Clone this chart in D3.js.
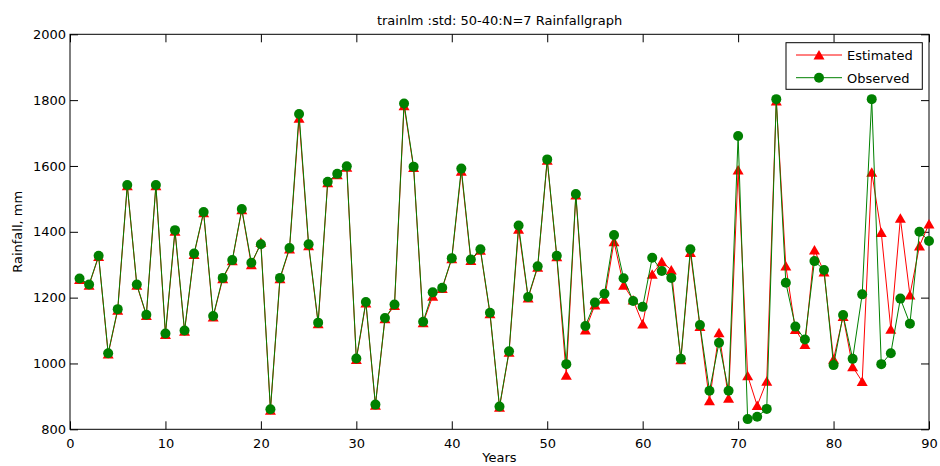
<!DOCTYPE html>
<html>
<head>
<meta charset="utf-8">
<script src="https://cdn.jsdelivr.net/npm/d3@7"></script>
<style>
  body { margin: 0; background: #fff; }
  text { font-family: "DejaVu Sans", sans-serif; font-size: 13px; fill: #000; }
</style>
</head>
<body>
<div id="chart"></div>
<script>
// Data
const years = d3.range(1, 91);
const observed = [
  1258, 1240, 1327, 1031, 1165, 1542, 1240, 1148, 1542, 1091,
  1405, 1100, 1334, 1460, 1144, 1260, 1314, 1469, 1306, 1362,
  861, 1260, 1351, 1758, 1362, 1124, 1552, 1576, 1599, 1015,
  1187, 875, 1138, 1179, 1790, 1598, 1127, 1216, 1230, 1320,
  1592, 1316, 1347, 1154, 869, 1037, 1419, 1202, 1295, 1620,
  1327, 998, 1515, 1114, 1185, 1212, 1390, 1259, 1190, 1172,
  1321, 1281, 1260, 1014, 1347, 1117, 917, 1063, 917, 1691,
  831, 838, 862, 1803, 1245, 1112, 1073, 1311, 1284, 995,
  1147, 1014, 1210, 1803, 998, 1031, 1197, 1121, 1400, 1372
];
const estimated = [
  1255, 1238, 1325, 1029, 1162, 1540, 1238, 1146, 1540, 1088,
  1402, 1098, 1331, 1458, 1141, 1257, 1312, 1467, 1300, 1368,
  858, 1257, 1348, 1745, 1358, 1121, 1549, 1573, 1596, 1012,
  1184, 873, 1136, 1176, 1783, 1595, 1124, 1204, 1228, 1318,
  1584, 1313, 1344, 1151, 867, 1034, 1408, 1199, 1292, 1617,
  1324, 964, 1512, 1102, 1178, 1195, 1370, 1238, 1193, 1120,
  1271, 1309, 1284, 1011, 1337, 1112, 887, 1093, 894, 1588,
  963, 872, 946, 1797, 1296, 1103, 1058, 1345, 1278, 1013,
  1143, 990, 945, 1581, 1398, 1104, 1441, 1208, 1357, 1424
];
const xTicks = d3.range(0, 91, 10);
const yTicks = d3.range(800, 2001, 200);

const width = 940, height = 466;
const plotLeft = 70, plotRight = 929, plotTop = 34.3, plotBottom = 429.3;

const svg = d3.select("#chart").append("svg")
  .attr("width", width)
  .attr("height", height);

const x = d3.scaleLinear().domain([0, 90]).range([plotLeft, plotRight]);
const y = d3.scaleLinear().domain([800, 2000]).range([plotBottom, plotTop]);
const fmt = d3.format("d");

// Axes (ticks point inward, like a boxed plot)
svg.append("g")
  .attr("transform", `translate(0,${plotBottom})`)
  .call(d3.axisBottom(x).tickValues(xTicks).tickFormat(fmt).tickSizeInner(-8).tickSizeOuter(0).tickPadding(9))
  .call(g => g.select(".domain").remove());
svg.append("g")
  .attr("transform", `translate(${plotLeft},0)`)
  .call(d3.axisLeft(y).tickValues(yTicks).tickFormat(fmt).tickSizeInner(-8).tickSizeOuter(0).tickPadding(4))
  .call(g => g.select(".domain").remove());
svg.append("g")
  .attr("transform", `translate(0,${plotTop})`)
  .call(d3.axisTop(x).tickValues(xTicks).tickSizeInner(-8).tickSizeOuter(0).tickFormat(""))
  .call(g => g.select(".domain").remove());
svg.append("g")
  .attr("transform", `translate(${plotRight},0)`)
  .call(d3.axisRight(y).tickValues(yTicks).tickSizeInner(-8).tickSizeOuter(0).tickFormat(""))
  .call(g => g.select(".domain").remove());
svg.selectAll(".tick text").style("font-family", "DejaVu Sans").style("font-size", "13px").attr("fill", "#000");
svg.selectAll(".tick line").attr("stroke", "#000");

// Frame
svg.append("rect")
  .attr("x", plotLeft).attr("y", plotTop)
  .attr("width", plotRight - plotLeft).attr("height", plotBottom - plotTop)
  .attr("fill", "none").attr("stroke", "#000").attr("stroke-width", 1);

const tri = "M0,-5L5.5,4.5L-5.5,4.5Z";

const line = d3.line().x((d, i) => x(years[i])).y(d => y(d));

// Estimated series
svg.append("path").datum(estimated)
  .attr("d", line).attr("fill", "none").attr("stroke", "#ff0000").attr("stroke-width", 1);
svg.append("g").selectAll("path").data(estimated).join("path")
  .attr("d", tri)
  .attr("transform", (d, i) => `translate(${x(years[i])},${y(d)})`)
  .attr("fill", "#ff0000");

// Observed series
svg.append("path").datum(observed)
  .attr("d", line).attr("fill", "none").attr("stroke", "#008000").attr("stroke-width", 1);
svg.append("g").selectAll("circle").data(observed).join("circle")
  .attr("cx", (d, i) => x(years[i]))
  .attr("cy", d => y(d))
  .attr("r", 5)
  .attr("fill", "#008000");

// Title and axis labels
svg.append("text").attr("x", (plotLeft + plotRight) / 2).attr("y", 25)
  .attr("text-anchor", "middle").text("trainlm :std: 50-40:N=7 Rainfallgraph");
svg.append("text").attr("x", (plotLeft + plotRight) / 2).attr("y", 462)
  .attr("text-anchor", "middle").text("Years");
svg.append("text")
  .attr("transform", `translate(22,${(plotTop + plotBottom) / 2}) rotate(-90)`)
  .attr("text-anchor", "middle").text("Rainfall, mm");

// Legend
const legend = svg.append("g");
legend.append("rect")
  .attr("x", 786).attr("y", 42.7).attr("width", 136.3).attr("height", 46.6)
  .attr("fill", "#fff").attr("stroke", "#000").attr("stroke-width", 1);
const items = [
  { name: "Estimated", color: "#ff0000", y: 55 },
  { name: "Observed", color: "#008000", y: 77.7 }
];
items.forEach(it => {
  legend.append("line")
    .attr("x1", 796).attr("x2", 842).attr("y1", it.y).attr("y2", it.y)
    .attr("stroke", it.color).attr("stroke-width", 1);
  if (it.name === "Estimated") {
    legend.append("path").attr("d", tri)
      .attr("transform", `translate(819,${it.y})`).attr("fill", it.color);
  } else {
    legend.append("circle").attr("cx", 819).attr("cy", it.y).attr("r", 5).attr("fill", it.color);
  }
  legend.append("text").attr("x", 847).attr("y", it.y + 5).text(it.name);
});
</script>
</body>
</html>
